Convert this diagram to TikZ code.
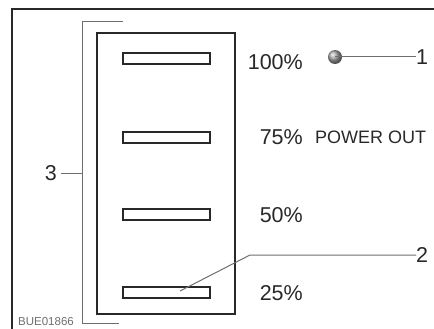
\documentclass[tikz,border=0pt]{standalone}
\usepackage{fontspec}
\setmainfont{Liberation Sans}
\usetikzlibrary{positioning}

\definecolor{inkgray}{RGB}{40,40,40}
\definecolor{leadgray}{RGB}{110,110,110}

\tikzset{
  frameline/.style={draw=inkgray, line width=2pt},
  slotbox/.style={draw=inkgray, line width=1.8pt, minimum width=87pt, minimum height=11pt, inner sep=0pt},
  leader/.style={draw=leadgray, line width=1pt},
  biglabel/.style={text=inkgray, inner sep=0pt, font=\fontsize{21.5}{24}\selectfont},
  smalllabel/.style={text=inkgray, inner sep=0pt, font=\fontsize{18}{20}\selectfont}
}

\begin{document}
\begin{tikzpicture}[x=1pt,y=-1pt]
\useasboundingbox (0,0) rectangle (434,329);

%Frame
\draw [frameline] (12,330) -- (12,9) -- (435,9);

%Panel
\draw [frameline] (97,33) rectangle (235,314);

%Slots and levels
\foreach \name/\y in {a/58.5, b/137.5, c/214.5, d/292.5}{
  \node [slotbox] (slot\name) at (166.5,\y) {};
}
\node [biglabel, anchor=east] (lvla) at (303,62) {100\%};
\node [biglabel, anchor=east] (lvlb) at (303,137) {75\%};
\node [biglabel, anchor=east] (lvlc) at (303,215) {50\%};
\node [biglabel, anchor=east] (lvld) at (303,293.5) {25\%};
\node [smalllabel, anchor=west] (powerout) at (315,137) {POWER OUT};

%Callout 1
\shade [ball color=gray!70] (335,57) circle [radius=7];
\coordinate (lamp) at (335,57);
\node [biglabel, anchor=west] (one) at (416,57) {1};
\draw [leader] (lamp) -- (one.west);

%Callout 2
\node [biglabel, anchor=west] (two) at (416,255) {2};
\coordinate (bend) at (250,255);
\coordinate (tip) at (180,291);
\draw [leader] (two.west) -- (bend) -- (tip);

%Callout 3
\draw [leader] (123,22) -- (82,22) -- (82,323) -- (119,323);
\coordinate (brace) at (82,173);
\node [biglabel, anchor=east] (three) at (57,173) {3};
\draw [leader] (three.east) ++(4,0) -- (brace);

%Code
\node [anchor=west, inner sep=0pt, text=leadgray, font=\fontsize{11.5}{12}\selectfont] (code) at (18,322) {BUE01866};
\end{tikzpicture}
\end{document}
